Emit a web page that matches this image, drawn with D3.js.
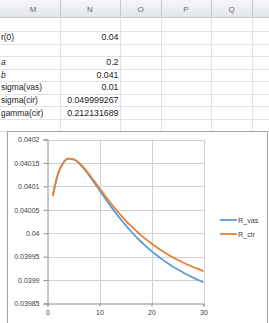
<!DOCTYPE html>
<html>
<head>
<meta charset="utf-8">
<script src="https://cdn.jsdelivr.net/npm/d3@7"></script>
<style>
  body { margin: 0; background: #fff; overflow: hidden; }
  text { font-family: "Liberation Sans", Arial, sans-serif; }
</style>
</head>
<body>
<svg id="sheet" width="269" height="323"></svg>
<script>
// spreadsheet cells
const columns = ['M', 'N', 'O', 'P', 'Q', ''];
const rowLabels = ['', 'r(0)', '', 'a', 'b', 'sigma(vas)', 'sigma(cir)', 'gamma(cir)', ''];
const rowValues = ['', '0.04', '', '0.2', '0.041', '0.01', '0.049999267', '0.212131689', ''];

// chart data
const maturities = [1, 2, 3, 4, 5, 6, 7, 8, 9, 10, 11, 12, 13, 14, 15,
  16, 17, 18, 19, 20, 21, 22, 23, 24, 25, 26, 27, 28, 29, 30];
const rVas = [0.0400793, 0.0401259, 0.0401500, 0.0401590, 0.0401578, 0.0401499, 0.0401379, 0.0401235,
  0.0401079, 0.0400917, 0.0400757, 0.0400600, 0.0400450, 0.0400308, 0.0400173, 0.0400047,
  0.0399928, 0.0399818, 0.0399715, 0.0399619, 0.0399530, 0.0399447, 0.0399370, 0.0399297,
  0.0399230, 0.0399167, 0.0399108, 0.0399053, 0.0399001, 0.0398952];
const rCir = [0.0400789, 0.0401258, 0.0401496, 0.0401590, 0.0401581, 0.0401507, 0.0401394, 0.0401258,
  0.0401111, 0.0400960, 0.0400811, 0.0400666, 0.0400528, 0.0400398, 0.0400276, 0.0400161,
  0.0400055, 0.0399955, 0.0399864, 0.0399779, 0.0399700, 0.0399625, 0.0399557, 0.0399493,
  0.0399435, 0.0399379, 0.0399327, 0.0399278, 0.0399233, 0.0399191];
const yTicks = [0.03985, 0.0399, 0.03995, 0.04, 0.04005, 0.0401, 0.04015, 0.0402];
const xTicks = [0, 10, 20, 30];
const seriesNames = ['R_vas', 'R_cir'];
const seriesColors = ['#5b9bd5', '#ed7d31'];

const svg = d3.select('#sheet');

// --- grid of cells ---
const colEdges = [-2, 60, 120, 161, 211, 252, 300];
const headerH = 17;
const rowTop = 18.5, rowH = 12.55;

const defs = svg.append('defs');
const grad = defs.append('linearGradient').attr('id', 'hdr').attr('x1', 0).attr('x2', 0).attr('y1', 0).attr('y2', 1);
grad.append('stop').attr('offset', '0%').attr('stop-color', '#f6f7f9');
grad.append('stop').attr('offset', '100%').attr('stop-color', '#e3e6ea');

svg.append('rect').attr('x', 0).attr('y', 0).attr('width', 269).attr('height', headerH)
  .attr('fill', 'url(#hdr)');
svg.append('line').attr('x1', 0).attr('x2', 269).attr('y1', headerH + 0.5).attr('y2', headerH + 0.5)
  .attr('stroke', '#c6c9ce');

// header column separators + letters
svg.selectAll('.hsep').data(colEdges.slice(1, -1)).enter().append('line')
  .attr('x1', d => d + 0.5).attr('x2', d => d + 0.5).attr('y1', 0).attr('y2', headerH)
  .attr('stroke', '#c6c9ce');
svg.selectAll('.hlab').data(columns).enter().append('text')
  .attr('x', (d, i) => i === 0 ? 33 : (colEdges[i] + colEdges[i + 1]) / 2)
  .attr('y', 11.5)
  .attr('text-anchor', 'middle')
  .attr('font-size', 8)
  .attr('fill', '#6a6a6a')
  .text(d => d);

// cell gridlines
svg.selectAll('.rline').data(d3.range(rowLabels.length)).enter().append('line')
  .attr('x1', 0).attr('x2', 269)
  .attr('y1', i => Math.round(rowTop + (i + 1) * rowH) + 0.5)
  .attr('y2', i => Math.round(rowTop + (i + 1) * rowH) + 0.5)
  .attr('stroke', '#dfe1e4');
svg.selectAll('.cline').data(colEdges.slice(1, -1)).enter().append('line')
  .attr('x1', d => d + 0.5).attr('x2', d => d + 0.5).attr('y1', headerH).attr('y2', 135)
  .attr('stroke', '#dfe1e4');

// cell texts
svg.selectAll('.plab').data(rowLabels).enter().append('text')
  .attr('x', 1)
  .attr('y', (d, i) => rowTop + i * rowH + 9.2)
  .attr('font-size', 8.4)
  .attr('font-style', d => (d === 'a' || d === 'b') ? 'italic' : 'normal')
  .attr('fill', '#1a1a1a')
  .text(d => d);
svg.selectAll('.pval').data(rowValues).enter().append('text')
  .attr('x', 118.5)
  .attr('y', (d, i) => rowTop + i * rowH + 9.2)
  .attr('text-anchor', 'end')
  .attr('font-size', 8.8)
  .attr('fill', '#1a1a1a')
  .text(d => d);

// --- chart object ---
svg.append('rect').attr('x', 7.5).attr('y', 131.5).attr('width', 260).attr('height', 200)
  .attr('fill', '#fff').attr('stroke', '#a3a3a3');

const x = d3.scaleLinear().domain([0, 30]).range([47.5, 203.5]);
const y = d3.scaleLinear().domain([0.03985, 0.0402]).range([303.5, 139.5]);

// gridlines
svg.append('g').selectAll('line').data(yTicks.slice(1)).enter().append('line')
  .attr('x1', x(0)).attr('x2', x(30))
  .attr('y1', d => Math.round(y(d)) + 0.5).attr('y2', d => Math.round(y(d)) + 0.5)
  .attr('stroke', '#d0d0d0');
svg.append('g').selectAll('line').data(xTicks.slice(1)).enter().append('line')
  .attr('x1', d => Math.round(x(d)) + 0.5).attr('x2', d => Math.round(x(d)) + 0.5)
  .attr('y1', y(0.0402)).attr('y2', y(0.03985))
  .attr('stroke', '#d0d0d0');

// axes
const yAxis = svg.append('g')
  .attr('transform', `translate(${x(0)},0)`)
  .call(d3.axisLeft(y).tickValues(yTicks).tickSize(4).tickPadding(4)
    .tickFormat(d => String(+d.toFixed(5))));
const xAxis = svg.append('g')
  .attr('transform', `translate(0,${y(0.03985)})`)
  .call(d3.axisBottom(x).tickValues(xTicks).tickSize(3).tickPadding(4)
    .tickFormat(d3.format('d')));
[yAxis, xAxis].forEach(a => {
  a.select('.domain').attr('stroke', '#8c8c8c');
  a.selectAll('.tick line').attr('stroke', '#8c8c8c');
  a.selectAll('.tick text').attr('font-size', 7).attr('fill', '#404040')
    .attr('font-family', '"Liberation Sans", Arial, sans-serif');
});

// series lines
const line = d3.line()
  .x((d, i) => x(maturities[i]))
  .y(d => y(d))
  .curve(d3.curveMonotoneX);

[rVas, rCir].forEach((s, k) => {
  svg.append('path')
    .datum(s)
    .attr('fill', 'none')
    .attr('stroke', seriesColors[k])
    .attr('stroke-width', 1.8)
    .attr('stroke-linejoin', 'round')
    .attr('d', line);
});

// legend
const legend = svg.append('g').selectAll('g').data(seriesNames).enter().append('g')
  .attr('transform', (d, i) => `translate(220,${220 + i * 14})`);
legend.append('line').attr('x1', 0).attr('x2', 17).attr('y1', 0).attr('y2', 0)
  .attr('stroke', (d, i) => seriesColors[i]).attr('stroke-width', 1.8);
legend.append('text').attr('x', 18).attr('y', 2.5)
  .attr('font-size', 7.2).attr('fill', '#404040')
  .text(d => d);
</script>
</body>
</html>
